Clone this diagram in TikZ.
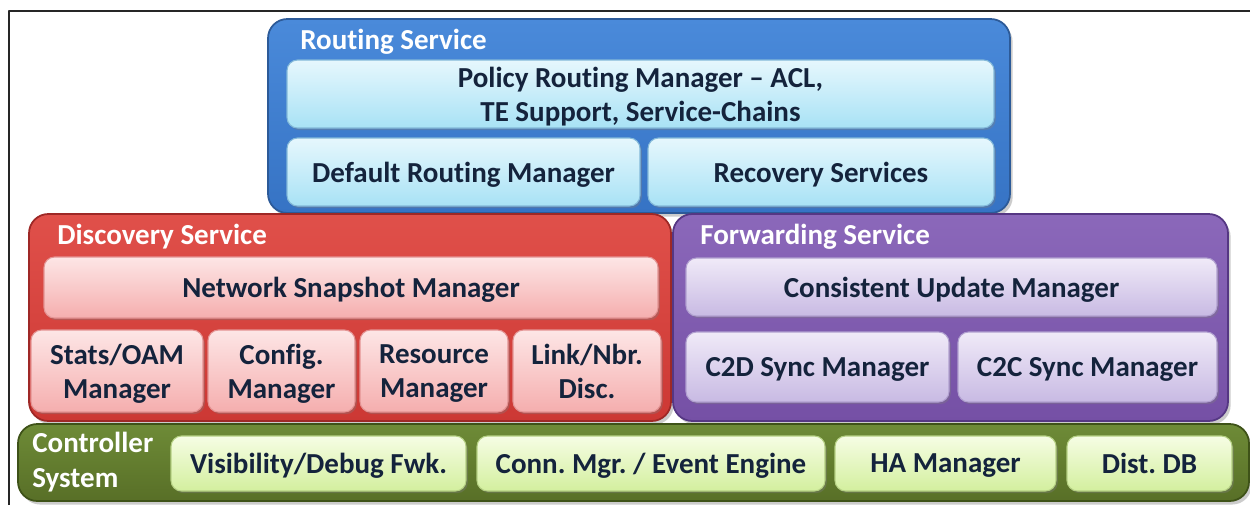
\documentclass[tikz,border=0pt]{standalone}
\usepackage{fontspec}
\setmainfont{Carlito}[Ligatures={TeX,NoCommon}]
\usetikzlibrary{shadows}
\frenchspacing
\definecolor{rtout}{HTML}{4A8ADA}
\definecolor{rtoutb}{HTML}{3673C4}
\definecolor{rtedge}{HTML}{2C5A98}
\definecolor{rtin}{HTML}{E6F7FD}
\definecolor{rtinb}{HTML}{A8E2F5}
\definecolor{dsout}{HTML}{E0504A}
\definecolor{dsoutb}{HTML}{CC3834}
\definecolor{dsedge}{HTML}{9E2826}
\definecolor{dsin}{HTML}{FDE6E6}
\definecolor{dsinb}{HTML}{F5AEAE}
\definecolor{fwout}{HTML}{8B68BA}
\definecolor{fwoutb}{HTML}{7550A5}
\definecolor{fwedge}{HTML}{553783}
\definecolor{fwin}{HTML}{F0EAF8}
\definecolor{fwinb}{HTML}{C8BAE3}
\definecolor{csout}{HTML}{6E8B37}
\definecolor{csoutb}{HTML}{586F27}
\definecolor{csedge}{HTML}{3E5218}
\definecolor{csin}{HTML}{F6FDE4}
\definecolor{csinb}{HTML}{D3EF9E}
\definecolor{txtdark}{HTML}{14233C}

\begin{document}
\begin{tikzpicture}[x=0.02cm,y=-0.02cm,line join=round,
  wh/.style 2 args={minimum width=#1*0.02cm,minimum height=#2*0.02cm},
  grp/.style={anchor=north west,inner sep=0pt,outer sep=0pt,rounded corners=11pt,line width=1pt,
    drop shadow={shadow xshift=1.5pt,shadow yshift=-2pt,opacity=0.4}},
  part/.style={anchor=north west,inner sep=0pt,outer sep=0pt,rounded corners=6pt,line width=0.6pt,
    align=center,text=txtdark,text depth=0pt,font=\fontsize{16.5}{19.5}\selectfont\bfseries,
    drop shadow={shadow xshift=1pt,shadow yshift=-1.2pt,opacity=0.35}},
  gtitle/.style={anchor=west,inner sep=0pt,text=white,align=left,font=\fontsize{16.5}{20}\selectfont\bfseries},
  rt/.style={top color=rtout,bottom color=rtoutb,draw=rtedge},
  rtp/.style={top color=rtin,bottom color=rtinb,draw=rtinb!70!rtedge},
  ds/.style={top color=dsout,bottom color=dsoutb,draw=dsedge},
  dsp/.style={top color=dsin,bottom color=dsinb,draw=dsinb!80!dsedge},
  fw/.style={top color=fwout,bottom color=fwoutb,draw=fwedge},
  fwp/.style={top color=fwin,bottom color=fwinb,draw=fwinb!80!fwedge},
  cs/.style={top color=csout,bottom color=csoutb,draw=csedge},
  csp/.style={top color=csin,bottom color=csinb,draw=csinb!80!csedge}]
  \useasboundingbox (0,0) rectangle (1250,505);
  \draw[line width=1.3pt,color=black!85] (9,505)--(9,11)--(1250,11);

  \node[grp,rt,wh={742}{194}] (routing) at (268,19) {};
  \node[gtitle] (routing-t) at (300,42) {Routing Service};
  \node[part,rtp,wh={707}{68}] (policy) at (287,60) {Policy Routing Manager -- ACL,\\TE Support, Service-Chains};
  \node[part,rtp,wh={353}{68}] (defroute) at (287,138) {Default Routing Manager};
  \node[part,rtp,wh={346}{68}] (recovery) at (648,138) {Recovery Services};

  \node[grp,ds,wh={642}{207}] (discovery) at (29,214) {};
  \node[gtitle] (discovery-t) at (57,237) {Discovery Service};
  \node[part,dsp,wh={614}{61}] (snapshot) at (44,257) {Network Snapshot Manager};
  \node[part,dsp,wh={172}{82}] (stats) at (31,330) {Stats/OAM\\Manager};
  \node[part,dsp,wh={147}{82}] (config) at (208,330) {Config.\\Manager};
  \node[part,dsp,wh={148}{82}] (resource) at (360,330) {Resource\\Manager};
  \node[part,dsp,wh={148}{82}] (linknbr) at (513,330) {Link/Nbr.\\Disc.};

  \node[grp,fw,wh={555}{207}] (forwarding) at (673,214) {};
  \node[gtitle] (forwarding-t) at (700,237) {Forwarding Service};
  \node[part,fwp,wh={531}{58}] (consistent) at (686,258) {Consistent Update Manager};
  \node[part,fwp,wh={263}{70}] (c2d) at (686,332) {C2D Sync Manager};
  \node[part,fwp,wh={259}{70}] (c2c) at (958,332) {C2C Sync Manager};

  \node[grp,cs,wh={1231}{77}] (controller) at (18,424) {};
  \node[gtitle] (controller-t) at (32,462) {Controller\\System};
  \node[part,csp,wh={295}{55}] (visibility) at (171,436) {Visibility/Debug Fwk.};
  \node[part,csp,wh={348}{55}] (connmgr) at (477,436) {Conn. Mgr. / Event Engine};
  \node[part,csp,wh={221}{55}] (hamgr) at (835,436) {HA Manager};
  \node[part,csp,wh={165}{55}] (distdb) at (1067,436) {Dist. DB};
\end{tikzpicture}
\end{document}
